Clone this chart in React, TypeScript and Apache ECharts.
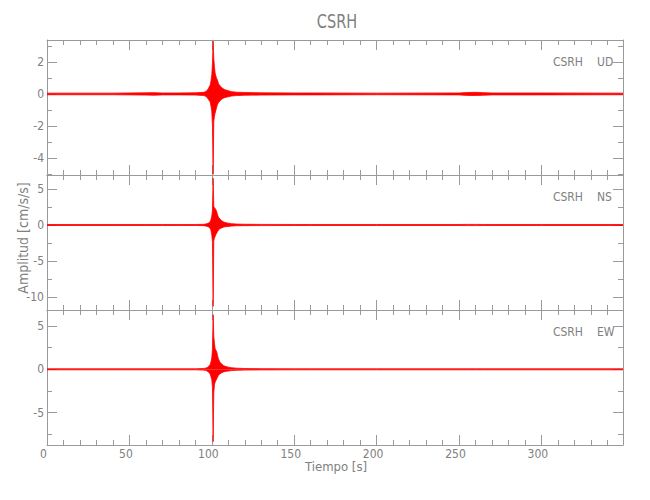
import React, { useEffect, useRef } from "react";
import * as echarts from "echarts";

// Time samples (s) at which the envelope of each trace was read
const TIMES = [0, 20, 40, 60, 65, 70, 80, 90, 95, 96, 97, 98, 99, 99.5, 100, 100.4, 100.8, 101.2, 101.6, 102, 102.5, 103, 103.5, 104, 105, 106, 107, 108, 110, 112, 115, 120, 130, 150, 160, 200, 250, 255, 260, 265, 270, 300, 349.5];

// UD component (upper / lower envelope, cm/s/s)
const UD_UPPER = [0.05, 0.05, 0.05, 0.07, 0.08, 0.06, 0.06, 0.07, 0.1, 0.13, 0.2, 0.35, 0.55, 0.8, 1.2, 1.9, 3.3, 2.2, 1.7, 1.3, 1.1, 0.95, 0.85, 0.65, 0.5, 0.4, 0.32, 0.26, 0.2, 0.14, 0.11, 0.09, 0.07, 0.06, 0.06, 0.05, 0.06, 0.09, 0.1, 0.08, 0.06, 0.06, 0.05];
const UD_LOWER = [-0.05, -0.05, -0.05, -0.07, -0.08, -0.06, -0.06, -0.07, -0.1, -0.13, -0.2, -0.35, -0.5, -0.75, -1.1, -2.0, -5.0, -1.7, -1.4, -1.2, -1.0, -0.8, -0.65, -0.55, -0.42, -0.33, -0.27, -0.22, -0.18, -0.13, -0.1, -0.08, -0.07, -0.06, -0.06, -0.05, -0.06, -0.09, -0.1, -0.08, -0.06, -0.06, -0.05];

// NS component
const NS_UPPER = [0.07, 0.07, 0.07, 0.07, 0.07, 0.07, 0.07, 0.07, 0.09, 0.13, 0.18, 0.28, 0.45, 0.75, 1.2, 2.1, 6.5, 2.6, 2.4, 2.3, 2.1, 1.8, 1.4, 1.1, 0.8, 0.6, 0.45, 0.35, 0.25, 0.18, 0.13, 0.1, 0.08, 0.07, 0.07, 0.07, 0.07, 0.08, 0.08, 0.07, 0.07, 0.07, 0.07];
const NS_LOWER = [-0.07, -0.07, -0.07, -0.07, -0.07, -0.07, -0.07, -0.07, -0.09, -0.13, -0.18, -0.28, -0.45, -0.75, -1.4, -2.4, -11.3, -2.2, -1.8, -1.6, -1.3, -1.1, -0.9, -0.7, -0.5, -0.4, -0.3, -0.25, -0.2, -0.15, -0.11, -0.09, -0.08, -0.07, -0.07, -0.07, -0.07, -0.08, -0.08, -0.07, -0.07, -0.07, -0.07];

// EW component
const EW_UPPER = [0.06, 0.06, 0.06, 0.06, 0.06, 0.06, 0.06, 0.06, 0.09, 0.13, 0.18, 0.32, 0.55, 0.85, 1.3, 2.4, 6.3, 3.8, 3.0, 2.4, 2.2, 2.0, 1.6, 1.2, 0.8, 0.6, 0.45, 0.35, 0.25, 0.18, 0.13, 0.09, 0.07, 0.06, 0.06, 0.06, 0.06, 0.06, 0.06, 0.06, 0.06, 0.06, 0.06];
const EW_LOWER = [-0.06, -0.06, -0.06, -0.06, -0.06, -0.06, -0.06, -0.06, -0.09, -0.13, -0.18, -0.32, -0.55, -0.85, -1.2, -2.1, -8.35, -2.7, -1.8, -1.5, -1.3, -1.1, -0.9, -0.7, -0.5, -0.4, -0.32, -0.25, -0.2, -0.15, -0.11, -0.09, -0.07, -0.06, -0.06, -0.06, -0.06, -0.06, -0.06, -0.06, -0.06, -0.06, -0.06];

const STATION = "CSRH";
const COMPONENTS = ["UD", "NS", "EW"];
const Y_MIN = [-5.05, -11.8, -8.73];
const Y_MAX = [3.36, 6.94, 6.84];
const Y_STEP = [2, 5, 5];
const X_MIN = 0;
const X_MAX = 349.5;
const X_STEP = 50;

const AXIS_COLOR = "#9a9a9a";
const TEXT_COLOR = "#808080";
const FONT = "'DejaVu Sans Condensed', 'Liberation Sans Narrow', 'Liberation Sans', sans-serif";
const TRACE_COLOR = "#ff0000";

const GRID_LEFT = 47;
const GRID_RIGHT = 27;
const GRID_TOPS = [40, 175, 310];
const GRID_H = 135;

const isMultiple = (v: number, step: number) => Math.abs(v / step - Math.round(v / step)) < 1e-6;

export default function App() {
  const ref = useRef<HTMLDivElement>(null);

  useEffect(() => {
    if (!ref.current) return;
    const chart = echarts.init(ref.current, null, { renderer: "svg" });

    const uppers = [UD_UPPER, NS_UPPER, EW_UPPER];
    const lowers = [UD_LOWER, NS_LOWER, EW_LOWER];

    const grids: any[] = [];
    const xAxes: any[] = [];
    const yAxes: any[] = [];
    const series: any[] = [];

    const tickStyle = { color: AXIS_COLOR, width: 1 };

    for (let i = 0; i < 3; i++) {
      grids.push({ left: GRID_LEFT, right: GRID_RIGHT, top: GRID_TOPS[i], height: GRID_H, containLabel: false });
      const xBase = {
        type: "value",
        gridIndex: i,
        min: X_MIN,
        max: X_MAX,
        minInterval: X_STEP,
        maxInterval: X_STEP,
        axisLine: { show: true, onZero: false, lineStyle: tickStyle },
        axisTick: { show: true, inside: true, length: 10, lineStyle: tickStyle },
        minorTick: { show: true, splitNumber: 5, length: 5, lineStyle: tickStyle },
        splitLine: { show: false },
        minorSplitLine: { show: false },
      };
      xAxes.push({
        ...xBase,
        position: "bottom",
        axisLabel: {
          show: i === 2,
          color: TEXT_COLOR,
          fontFamily: FONT,
          fontSize: 12,
          margin: 3,
          padding: [0, 7, 0, 0],
          showMaxLabel: false,
          formatter: (v: number) => (isMultiple(v, X_STEP) ? String(Math.round(v)) : ""),
        },
      });
      xAxes.push({ ...xBase, position: "top", axisLabel: { show: false } });

      const step = Y_STEP[i];
      const yBase = {
        type: "value",
        gridIndex: i,
        min: Y_MIN[i],
        max: Y_MAX[i],
        minInterval: step,
        maxInterval: step,
        axisLine: { show: true, onZero: false, lineStyle: tickStyle },
        axisTick: { show: true, inside: true, length: 10, lineStyle: tickStyle },
        minorTick: { show: true, splitNumber: 2, length: 5, lineStyle: tickStyle },
        splitLine: { show: false },
        minorSplitLine: { show: false },
      };
      yAxes.push({
        ...yBase,
        position: "left",
        axisLabel: {
          show: true,
          color: TEXT_COLOR,
          fontFamily: FONT,
          fontSize: 12,
          margin: 3,
          formatter: (v: number) => (isMultiple(v, step) ? String(Math.round(v)) : ""),
        },
      });
      yAxes.push({ ...yBase, position: "right", axisLabel: { show: false } });

      const mk = (arr: number[]) => TIMES.map((t, k) => [t, arr[k]]);
      for (const arr of [uppers[i], lowers[i]]) {
        series.push({
          type: "line",
          xAxisIndex: i * 2,
          yAxisIndex: i * 2,
          data: mk(arr),
          symbol: "none",
          lineStyle: { color: TRACE_COLOR, width: 0.8 },
          areaStyle: { color: TRACE_COLOR, opacity: 1 },
          silent: true,
        });
      }
    }

    const graphics: any[] = [
      {
        type: "text",
        x: GRID_LEFT + (650 - GRID_LEFT - GRID_RIGHT) / 2 + 2,
        y: 22,
        scaleX: 0.85,
        style: { text: STATION, fill: TEXT_COLOR, font: `19px ${FONT}`, textAlign: "center", textVerticalAlign: "middle" },
      },
      {
        type: "text",
        x: 23,
        y: 238,
        rotation: Math.PI / 2,
        style: { text: "Amplitud [cm/s/s]", fill: TEXT_COLOR, font: `14px ${FONT}`, textAlign: "center", textVerticalAlign: "middle" },
      },
      {
        type: "text",
        x: 336,
        y: 466,
        style: { text: "Tiempo [s]", fill: TEXT_COLOR, font: `13px ${FONT}`, textAlign: "center", textVerticalAlign: "middle" },
      },
    ];
    for (let i = 0; i < 3; i++) {
      graphics.push({
        type: "text",
        x: 583,
        y: GRID_TOPS[i] + 22,
        style: { text: STATION, fill: TEXT_COLOR, font: `12px ${FONT}`, textAlign: "right", textVerticalAlign: "middle" },
      });
      graphics.push({
        type: "text",
        x: 597,
        y: GRID_TOPS[i] + 22,
        style: { text: COMPONENTS[i], fill: TEXT_COLOR, font: `12px ${FONT}`, textAlign: "left", textVerticalAlign: "middle" },
      });
    }

    chart.setOption({
      animation: false,
      backgroundColor: "#ffffff",
      grid: grids,
      xAxis: xAxes,
      yAxis: yAxes,
      series,
      graphic: graphics,
    });

    return () => chart.dispose();
  }, []);

  return <div ref={ref} style={{ position: "fixed", left: 0, top: 0, width: 650, height: 500 }} />;
}
